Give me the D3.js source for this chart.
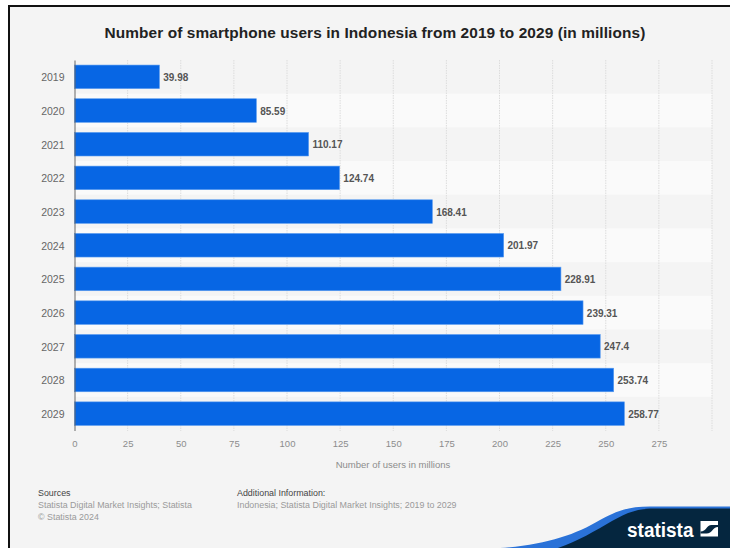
<!DOCTYPE html>
<html>
<head>
<meta charset="utf-8">
<script src="https://cdn.jsdelivr.net/npm/d3@7"></script>
<style>
html,body{margin:0;padding:0;background:#fff}
svg{display:block}
text{font-family:"Liberation Sans",Arial,sans-serif}
</style>
</head>
<body>
<svg id="chart" width="730" height="548"></svg>
<script>
const years = ["2019","2020","2021","2022","2023","2024","2025","2026","2027","2028","2029"];
const users = [39.98,85.59,110.17,124.74,168.41,201.97,228.91,239.31,247.4,253.74,258.77];
const valueTicks = [0,25,50,75,100,125,150,175,200,225,250,275];
const gridTicks = [25,50,75,100,125,150,175,200,225,250,275,300];
const titleText = "Number of smartphone users in Indonesia from 2019 to 2029 (in millions)";
const axisTitle = "Number of users in millions";

const svg = d3.select("#chart");

// Page panel with its dark frame
svg.append("rect").attr("width",730).attr("height",548).attr("fill","#fff");
svg.append("rect").attr("x",9).attr("y",6).attr("width",730).attr("height",550)
  .attr("fill","#f4f4f4").attr("stroke","#111").attr("stroke-width",2);

const x = d3.scaleLinear().domain([0,300]).range([74.5,712]);
const y = d3.scaleBand().domain(years).range([60,430.5]).paddingInner(0.3).paddingOuter(0.15);
const step = y.step();

// Alternating row stripes
svg.append("g").selectAll("rect").data(years.filter((d,i)=>i%2===1)).join("rect")
  .attr("x",x(0)).attr("width",x(300)-x(0))
  .attr("y",d=>y(d)-step*0.15).attr("height",step)
  .attr("fill","#fafafa");

// Vertical dotted grid
svg.append("g").selectAll("line").data(gridTicks).join("line")
  .attr("x1",d=>x(d)).attr("x2",d=>x(d)).attr("y1",60).attr("y2",431)
  .attr("stroke","#dcdcdc").attr("stroke-width",1).attr("stroke-dasharray","1.5 1");

// Bars
svg.append("g").selectAll("rect").data(years).join("rect")
  .attr("x",x(0)).attr("y",d=>y(d))
  .attr("width",(d,i)=>x(users[i])-x(0)).attr("height",y.bandwidth())
  .attr("fill","#0766e4").attr("stroke","#5a9cf0").attr("stroke-width",0.6);

// Value labels
svg.append("g").selectAll("text").data(years).join("text")
  .attr("x",(d,i)=>x(users[i])+3.8).attr("y",d=>y(d)+y.bandwidth()/2+4.1)
  .attr("font-size",10).attr("font-weight",700).attr("fill","#555").text((d,i)=>users[i]);

// Category axis
const yAxis = svg.append("g").attr("transform","translate(74.5,0)")
  .call(d3.axisLeft(y).tickSize(0).tickPadding(10));
yAxis.select(".domain").attr("stroke","#666").attr("stroke-width",1);
yAxis.selectAll("text").attr("font-size",10.5).attr("fill","#666").attr("dy","0.42em").style("font-family",'"Liberation Sans",Arial,sans-serif');

// Value axis labels only
const xAxis = svg.append("g").attr("transform","translate(0,431)")
  .call(d3.axisBottom(x).tickValues(valueTicks).tickSize(0).tickPadding(9));
xAxis.select(".domain").remove();
xAxis.selectAll("text").attr("font-size",9.5).attr("fill","#8c8c8c").style("font-family",'"Liberation Sans",Arial,sans-serif');

svg.append("text").attr("x",375).attr("y",37.5).attr("text-anchor","middle")
  .attr("font-size",15.4).attr("font-weight",700).attr("letter-spacing",0.1).attr("fill","#222").text(titleText);

svg.append("text").attr("x",393).attr("y",468).attr("text-anchor","middle")
  .attr("font-size",9.5).attr("fill","#8c8c8c").text(axisTitle);

// Footer notes
const foot = [
  [38,496,"Sources","#444"],
  [38,508,"Statista Digital Market Insights; Statista","#9a9a9a"],
  [38,520,"© Statista 2024","#9a9a9a"],
  [237,496,"Additional Information:","#444"],
  [237,508,"Indonesia; Statista Digital Market Insights; 2019 to 2029","#9a9a9a"]
];
svg.append("g").selectAll("text").data(foot).join("text")
  .attr("x",d=>d[0]).attr("y",d=>d[1]).attr("font-size",8.9).attr("fill",d=>d[3]).text(d=>d[2]);

// Brand swoosh in the bottom-right corner
const swoosh = "M500,548 C545,545 575,535 600,520 C618,510 630,506.5 650,506.5 L730,506.5 L730,548 Z";
const navy = "M558,548 C578,541 595,531 612,521 C628,512 638,508.5 655,508.5 L730,508.5 L730,548 Z";
svg.append("path").attr("d",swoosh).attr("fill","#2a72d8");
svg.append("path").attr("d",navy).attr("fill","#05263f");
svg.append("text").attr("x",627).attr("y",536.5).attr("font-size",20).attr("font-weight",700)
  .attr("textLength",66.5).attr("lengthAdjust","spacingAndGlyphs").attr("fill","#fff").text("statista");
const logo = svg.append("g").attr("transform","translate(700.5,521)");
logo.append("rect").attr("width",17.5).attr("height",15.5).attr("fill","#fff");
logo.append("path").attr("d","M0,10.5 C6,10.5 6,4 11,4 L17.5,4 L17.5,6 C12,6 12,12.5 6,12.5 L0,12.5 Z").attr("fill","#05263f");
</script>
</body>
</html>
